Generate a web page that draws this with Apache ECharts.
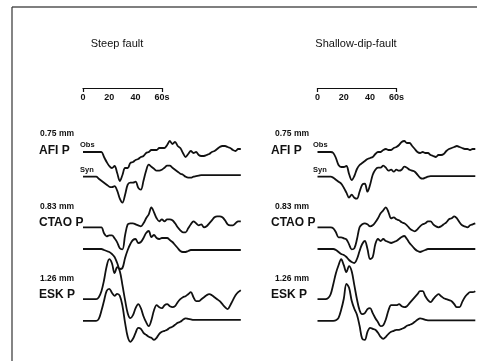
<!DOCTYPE html>
<html>
<head>
<meta charset="utf-8">
<script src="https://cdn.jsdelivr.net/npm/echarts@6/dist/echarts.min.js"></script>
<style>
  html, body { margin: 0; padding: 0; background: #fff; }
  #main { width: 477px; height: 361px; }
</style>
</head>
<body>
<div id="main"></div>
<script>
// sampling step of the traces, seconds
var DT = 2;
var titles = ['Steep fault', 'Shallow-dip-fault'];
var stations = ['AFI P', 'CTAO P', 'ESK P'];
var amplitudes = ['0.75 mm', '0.83 mm', '1.26 mm'];
var scaleTicks = ['0', '20', '40', '60s'];

// steep fault (left), amplitude per 2 s, up positive
var afiObsL = [0,0,0,0,0,0,0,0,-5,-10, -14,-16,-14,-21,-29,-23,-16,-16,-11,-10, -8,-7,-5,-4,-1,0,2,2,2,4, 4,4,7,11,8,10,6,4,-1,-5, -2,1,-1,0,-3,-4,-4,-3,-2,0, 1,3,5,6,6,5,4,2,1,3, 3];
var afiSynL = [0,0,0,0,0,0,-2,-4,-6,-8, -10,-10.5,-9.5,-14,-22,-26,-18,-8,-6,-6, -5,-11,-13,-4,6,12,10,8,6,6, 7,9,11,11,9,7,5,3,2,0, -1,-1,0,0.5,1,1.5,1.5,1.5,1.5,1.5, 1.5,1.5,1.5,1.5,1.5,1.5,1.5,1.5,1.5,1.5, 1.5];
var ctaoObsL = [0,0,0,0,0,0,0,0,-6,-9, -8,-8,-11,-15,-21,-22,-8,3,4,4, 3,2,1,4,9,13,20,15,9,6, 8,6,8,8,7,4,0,-3,-5,-5, -1,3,6,4,2,3,0,1,4,7, 10,11,11,10,7,3,2,2,4,6, 6];
var ctaoSynL = [0,0,0,0,0,0,0,0,-1,-2, -3,-5,-8,-14,-20,-19,-9,-1,5,9, 10,6,7,11,16,18,12,14,11,10, 11,11,11,9,7,4,1,-2,-3,-3, -2,-1,-1,-1,-1,-1,-1,-1,-1,-1, -1,-1,-1,-1,-1,-1,-1,-1,-1,-1, -1];
var eskObsL = [0,0,0,0,0,0,2,8,19,33, 40,36,26,32,28,14,-1,-14,-19,-16, -9,-5,-9,-17,-23,-27,-21,-11,-6,-8, -9,-6,-5,-7,-8,-7,-3,0,2,3, 5,7,2,-2,-2,0,2,4,5,4, 2,0,-2,-5,-8,-10,-6,-1,4,7, 9];
var eskSynL = [0,0,0,0,0,0,2,10,20,30, 32,28,25,27,25,15,-2,-16,-21,-18, -12,-7,-8,-12,-14,-16,-17,-19,-17,-13, -11,-10,-9,-7,-6,-4,-2,-1,1,2.5, 2,1.5,1,1,1,1,1,1,1,1, 1,1,1,1,1,1,1,1,1,1, 1];

// shallow-dip fault (right)
var afiObsR = [0,0,0,0,0,0,-1,-6,-13,-15, -15,-14,-22,-28,-24,-17,-13,-11,-9,-7, -6,-5,-2,0,0,2,3,2,2,4, 5,7,10,11,9,9,6,3,0,-1, 0,-1,-1,-3,-4,-5,-3,-3,-2,1, 3,4,5,6,5,4,3,3,2,3, 3];
var afiSynR = [0,0,0,0,0,0,-1,-3,-5,-7, -11,-16,-21,-18,-21,-22,-15,-8,-7,-15, -8,2,7,9,9,11,9,6,7,5, 7,6,7,10,9,7,6,5,2,-1, -2,-1,0,0.5,0.5,0.5,0.5,0.5,0.5,0.5, 0.5,0.5,0.5,0.5,0.5,0.5,0.5,0.5,0.5,0.5, 0.5];
var ctaoObsR = [0,0,0,0,0,0,-1,-5,-10,-10, -11,-12,-17,-22,-21,-12,0,3,4,3, 1,2,5,9,14,17,20,15,9,10, 8,7,5,4,2,-1,-3,-4,-2,1, 3,4,6,6,3,1,0,1,3,5, 8,9,11,9,5,2,1,0,2,3, 4];
var ctaoSynR = [0,0,0,0,0,0,0,-1,-3,-5, -6,-8,-11,-13,-14,-10,-2,5,8,0, -10,-8,5,10,8,10,8,7,6,7, 8,10,12,13,10,6,3,0,-2,-3, -2,-1,0,0,0,0,0,0,0,0, 0,0,0,0,0,0,0,0,0,0, 0];
var eskObsR = [0,0,0,0,1,5,15,26,34,40, 34,27,33,28,14,0,-11,-15,-14,-10, -9,-14,-19,-23,-27,-26,-20,-11,-6,-6, -6,-5,-7,-8,-7,-4,-1,2,5,8, 8,3,-1,-3,0,3,5,3,1,0, -1,-2,-5,-8,-8,-3,2,5,7,7, 8];
var eskSynR = [0,0,0,0,0,0,0,0.5,3,11, 22,37,33,20,12,6,-5,-18,-19,-11, -7,-8,-9,-12,-16,-18,-16,-13,-11,-10, -9,-9,-8,-7,-5,-4,-3,-1,1,2.5, 2,1,0.5,0.5,0.5,0.5,0.5,0.5,0.5,0.5, 0.5,0.5,0.5,0.5,0.5,0.5,0.5,0.5,0.5,0.5, 0.5];

var tracesL = [afiObsL, afiSynL, ctaoObsL, ctaoSynL, eskObsL, eskSynL];
var tracesR = [afiObsR, afiSynR, ctaoObsR, ctaoSynR, eskObsR, eskSynR];

// layout
var H = 361;
var rowBase = [209, 184.3, 133.7, 112, 61.8, 40.2]; // baseline of each trace, up from the bottom
var panelLeft = [83, 317.5];
var pxPerSec = 1.315;
var font = "'Liberation Sans', Arial, sans-serif";

var myChart = echarts.init(document.getElementById('main'));

var series = [];
function addTraces(list, idx) {
    for (var k = 0; k < list.length; k++) {
        var data = [];
        for (var i = 0; i < list[k].length; i++) {
            data.push([i * DT, rowBase[k] + list[k][i]]);
        }
        series.push({
            type: 'line', xAxisIndex: idx, yAxisIndex: idx,
            data: data, showSymbol: false, symbol: 'none', smooth: 0.35,
            lineStyle: { color: '#111', width: 1.8 },
            silent: true, animation: false
        });
    }
}
addTraces(tracesL, 0);
addTraces(tracesR, 1);

var graphic = [
    { type: 'line', shape: { x1: 12, y1: 7, x2: 477, y2: 7 }, style: { stroke: '#555', lineWidth: 1.3 } },
    { type: 'line', shape: { x1: 12, y1: 7, x2: 12, y2: 361 }, style: { stroke: '#333', lineWidth: 1.2 } }
];
function txt(x, y, s, size, align, weight) {
    graphic.push({
        type: 'text', x: x, y: y,
        style: { text: s, font: (weight || 'normal') + ' ' + size + 'px ' + font,
                 fill: '#111', textAlign: align || 'left', textVerticalAlign: 'middle' }
    });
}
txt(117, 44, titles[0], 11, 'center');
txt(356, 44, titles[1], 11, 'center');

var labelX = [[40, 39], [275, 271]];
var ampY = [134, 207, 279];
var staY = [150.5, 222.5, 294.5];
for (var p = 0; p < 2; p++) {
    for (var s = 0; s < 3; s++) {
        txt(labelX[p][0], ampY[s], amplitudes[s], 8.5, 'left', 'bold');
        txt(labelX[p][1], staY[s], stations[s], 12, 'left', 'bold');
    }
}
txt(80, 145, 'Obs', 7.5, 'left', 'bold');
txt(80, 170, 'Syn', 7.5, 'left', 'bold');
txt(313, 145, 'Obs', 7.5, 'left', 'bold');
txt(313, 170, 'Syn', 7.5, 'left', 'bold');

var grids = [], xAxes = [], yAxes = [];
for (var p = 0; p < 2; p++) {
    grids.push({ left: panelLeft[p], top: 100, width: 120 * pxPerSec, height: H - 100 });
    xAxes.push({ gridIndex: p, type: 'value', min: 0, max: 120, show: false });
    yAxes.push({ gridIndex: p, type: 'value', min: 0, max: H - 100, show: false });
}
// scale bars 0-60 s: line at y=88, end ticks down, labels below
for (var p = 0; p < 2; p++) {
    var g = grids.length;
    grids.push({ left: panelLeft[p], top: 78, width: 60 * pxPerSec, height: 10 });
    yAxes.push({ gridIndex: g, type: 'value', min: 0, max: 1, show: false });
    xAxes.push({
        gridIndex: g, type: 'category', position: 'bottom', boundaryGap: false,
        data: scaleTicks,
        axisLine: { show: true, lineStyle: { color: '#111', width: 1.2 } },
        axisTick: { show: true, length: 4, lineStyle: { color: '#111', width: 1.2 },
                    interval: function (i) { return i === 0 || i === scaleTicks.length - 1; } },
        axisLabel: { interval: 0, margin: 5, color: '#111', fontFamily: font,
                     fontSize: 9, fontWeight: 'bold' },
        splitLine: { show: false }
    });
}

myChart.setOption({
    backgroundColor: '#fff',
    animation: false,
    grid: grids,
    xAxis: xAxes,
    yAxis: yAxes,
    series: series,
    graphic: graphic
});
</script>
</body>
</html>
